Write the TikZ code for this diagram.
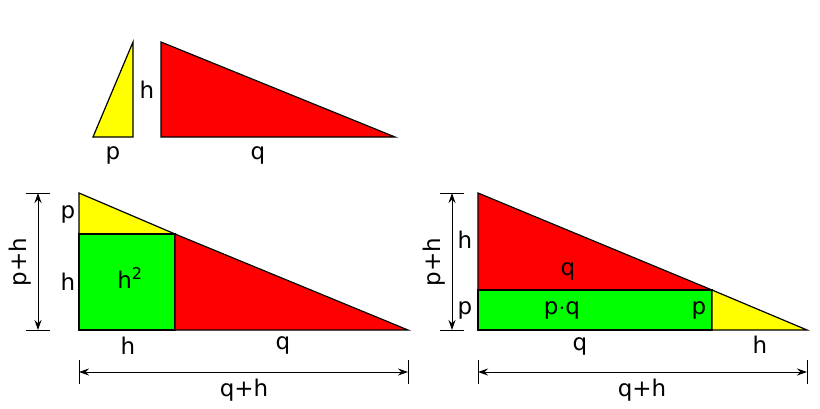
\documentclass[tikz,border=0pt]{standalone}
\usepackage{fontspec}
\setmainfont{DejaVu Sans}
\usetikzlibrary{arrows.meta}

\begin{document}
\begin{tikzpicture}[x=1pt, y=-1pt, line join=miter,
  piece/.style={draw=black, line width=1.2pt},
  lbl/.style={font=\fontsize{23}{26}\selectfont, inner sep=0pt},
  dim/.style={line width=1pt, {Stealth[length=10pt,width=7pt]}-{Stealth[length=10pt,width=7pt]}},
  tick/.style={line width=1pt}]
\useasboundingbox (0,0) rectangle (820,408);
\definecolor{yel}{RGB}{255,255,0}
\definecolor{rd}{RGB}{255,0,0}
\definecolor{gr}{RGB}{0,255,0}
% top pieces
\filldraw[piece, fill=yel] (93,137) -- (133,137) -- (133,42) -- cycle;
\filldraw[piece, fill=rd] (161,137) -- (161,42) -- (395,137) -- cycle;
\node[lbl] (th) at (147,90) {h};
\node[lbl] (tp) at (113,155) {p};
\node[lbl] (tq) at (258,155) {q};
% bottom left
\filldraw[piece, fill=yel] (79,193) -- (79,234) -- (175,234) -- cycle;
\filldraw[piece, fill=gr] (79,234) rectangle (175,330);
\filldraw[piece, fill=rd] (175,234) -- (175,330) -- (408,330) -- cycle;
\node[lbl] (lp) at (68,214) {p};
\node[lbl] (lh) at (68,282) {h};
\node[lbl] (lhh) at (130,278) {h\textsuperscript{2}};
\node[lbl] (lhb) at (128,346) {h};
\node[lbl] (lq) at (283,345) {q};
\coordinate (lt) at (38,193);
\coordinate (lb) at (38,330);
\coordinate (ll) at (79,372);
\coordinate (lr) at (408,372);
\draw[tick] (26,193) -- (50,193) (26,330) -- (50,330);
\draw[tick] (79,360) -- (79,384) (408,360) -- (408,384);
\draw[dim] (lt) -- (lb);
\draw[dim] (ll) -- (lr);
\node[lbl, rotate=90] (lph) at (20,262) {p+h};
\node[lbl] (lqh) at (244,390) {q+h};
% bottom right
\filldraw[piece, fill=rd] (478,193) -- (478,290) -- (712,290) -- cycle;
\filldraw[piece, fill=gr] (478,290) rectangle (712,330);
\filldraw[piece, fill=yel] (712,290) -- (712,330) -- (807,330) -- cycle;
\node[lbl] (rh) at (465,240) {h};
\node[lbl] (rq) at (568,271) {q};
\node[lbl] (rp) at (465,310) {p};
\node[lbl] (rpq) at (562,310) {p$\cdot$q};
\node[lbl] (rp2) at (699,310) {p};
\node[lbl] (rqb) at (580,346) {q};
\node[lbl] (rhb) at (760,345) {h};
\coordinate (rt) at (452,193);
\coordinate (rb) at (452,330);
\coordinate (rl) at (478,372);
\coordinate (rr) at (807,372);
\draw[tick] (440,193) -- (464,193) (440,330) -- (464,330);
\draw[tick] (478,360) -- (478,384) (807,360) -- (807,384);
\draw[dim] (rt) -- (rb);
\draw[dim] (rl) -- (rr);
\node[lbl, rotate=90] (rph) at (434,262) {p+h};
\node[lbl] (rqh) at (642,390) {q+h};
\end{tikzpicture}
\end{document}
